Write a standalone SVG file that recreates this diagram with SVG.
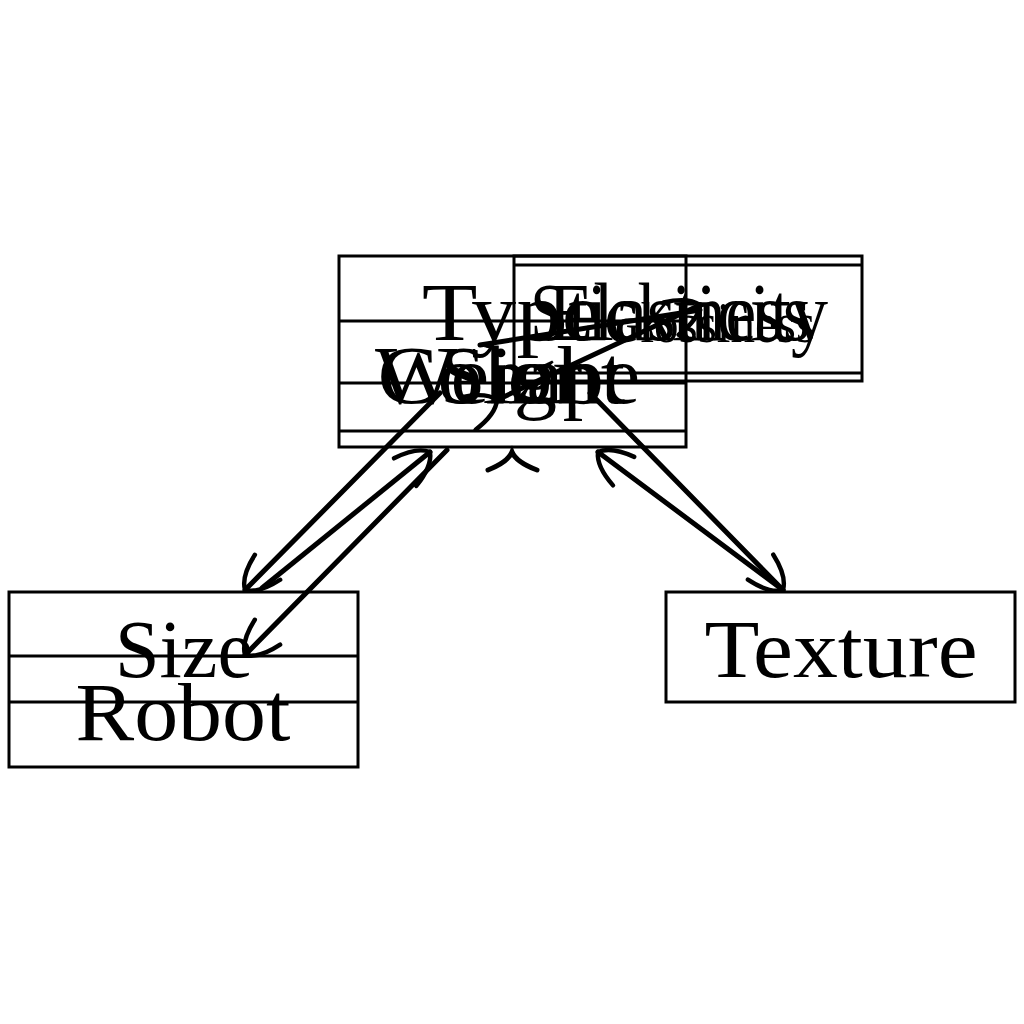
<svg xmlns="http://www.w3.org/2000/svg" width="1024" height="1024" viewBox="0 0 1024 1024">
<style>
.box{fill:none;stroke:#000;stroke-width:3}
.ln{stroke:#000;stroke-width:3}
.t{font-family:"Liberation Serif","DejaVu Serif",serif;font-size:82px;fill:#000;text-anchor:middle}
.ts{font-family:"Liberation Serif","DejaVu Serif",serif;font-size:56px;fill:#000;text-anchor:middle}
.e{fill:none;stroke:#000;stroke-width:5;stroke-linecap:round}
</style>
<defs>
<marker id="ah" markerUnits="userSpaceOnUse" markerWidth="80" markerHeight="80" refX="0" refY="0" viewBox="-45 -40 90 80" orient="auto" overflow="visible">
<path d="M-36,-20 Q-8,-14 0,0 Q-8,14 -36,20" fill="none" stroke="#000" stroke-width="5" stroke-linecap="round"/>
</marker>
</defs>
<g id="node-top">
<rect class="box" x="339" y="256" width="347" height="191"/>
<line class="ln" x1="339" y1="321" x2="686" y2="321"/>
<line class="ln" x1="339" y1="383" x2="686" y2="383"/>
<line class="ln" x1="339" y1="431" x2="686" y2="431"/>
<text class="t" x="512" y="340" textLength="180" lengthAdjust="spacingAndGlyphs">Type</text>
<text class="t" x="500" y="403" textLength="250" lengthAdjust="spacingAndGlyphs">Weight</text>
<text class="t" x="480" y="403" textLength="205" lengthAdjust="spacingAndGlyphs">Color</text>
<text class="t" x="540" y="403" textLength="200" lengthAdjust="spacingAndGlyphs">Shape</text>
</g>
<g id="node-right">
<rect class="box" x="514" y="256" width="348" height="125"/>
<line class="ln" x1="514" y1="265" x2="862" y2="265"/>
<line class="ln" x1="514" y1="373" x2="862" y2="373"/>
<text class="t" x="688" y="340" textLength="280" lengthAdjust="spacingAndGlyphs">Elasticity</text>
<text class="t" x="670" y="340" textLength="280" lengthAdjust="spacingAndGlyphs">Stickiness</text>
<text class="ts" x="710" y="342" textLength="210" lengthAdjust="spacingAndGlyphs">Glossiness</text>
</g>
<g id="node-robot">
<rect class="box" x="9" y="592" width="349" height="175"/>
<line class="ln" x1="9" y1="656" x2="358" y2="656"/>
<line class="ln" x1="9" y1="702" x2="358" y2="702"/>
<text class="t" x="184" y="677" textLength="138" lengthAdjust="spacingAndGlyphs">Size</text>
<text class="t" x="183" y="740" textLength="215" lengthAdjust="spacingAndGlyphs">Robot</text>
</g>
<g id="node-texture">
<rect class="box" x="666" y="592" width="349" height="110"/>
<text class="t" x="841" y="677" textLength="273" lengthAdjust="spacingAndGlyphs">Texture</text>
</g>
<g id="connectors">
<line class="e" x1="440" y1="393" x2="245" y2="590" marker-end="url(#ah)"/>
<line class="e" x1="262" y1="588" x2="430" y2="452" marker-end="url(#ah)"/>
<line class="e" x1="447" y1="450" x2="245" y2="655" marker-end="url(#ah)"/>
<line class="e" x1="590" y1="393" x2="783" y2="590" marker-end="url(#ah)"/>
<line class="e" x1="783" y1="590" x2="598" y2="452" marker-end="url(#ah)"/>
<line class="e" x1="497" y1="400" x2="700" y2="305" marker-end="url(#ah)" marker-start="url(#ah)"/>
<line class="e" x1="480" y1="345" x2="700" y2="310"/>
<path class="e" d="M488,470 Q508,462 512,452 Q516,462 537,470"/>
</g>
</svg>
